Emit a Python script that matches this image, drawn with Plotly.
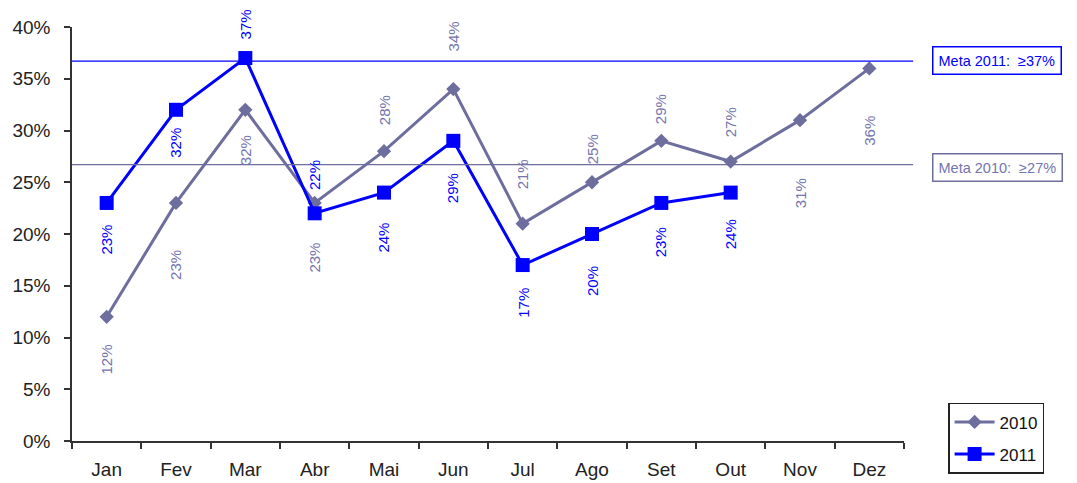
import plotly.graph_objects as go

months = ["Jan", "Fev", "Mar", "Abr", "Mai", "Jun", "Jul", "Ago", "Set", "Out", "Nov", "Dez"]
values_2010 = [12, 23, 32, 23, 28, 34, 21, 25, 29, 27, 31, 36]
values_2011 = [23, 32, 37, 22, 24, 29, 17, 20, 23, 24]
meta_2011 = 36.7
meta_2010 = 26.7
meta_2011_label = "Meta 2011:\u00a0\u00a0≥37%"
meta_2010_label = "Meta 2010:\u00a0\u00a0≥27%"
y_ticks = [0, 5, 10, 15, 20, 25, 30, 35, 40]

# label offsets in pixels (positive = below the point) - style only
shift_2010 = [43, 62, 40, 55, -41, -53, -49, -33, -32, -39, 73, 62]
shift_2011 = [37, 33, -34, -38, 45, 47, 38, 47, 39, 42]

C2010 = "#6E6E9E"
C2010_TXT = "#7474AE"
C2011 = "#0000FF"
FONT = "Liberation Sans, Arial, sans-serif"

fig = go.Figure()
fig.add_trace(go.Scatter(
    x=months, y=values_2010, name="2010", mode="lines+markers", legendgroup="a",
    line=dict(color=C2010, width=3),
    marker=dict(symbol="diamond", size=11, color=C2010),
))
fig.add_trace(go.Scatter(
    x=months[:len(values_2011)], y=values_2011, name="2011", mode="lines+markers", legendgroup="b",
    line=dict(color=C2011, width=3),
    marker=dict(symbol="square", size=14, color=C2011),
))

annotations = []
for m, v, s in zip(months, values_2010, shift_2010):
    annotations.append(dict(x=m, y=v, text=f"{v}%", showarrow=False, textangle=-90,
                            yshift=-s, font=dict(family=FONT, size=15, color=C2010_TXT)))
for m, v, s in zip(months, values_2011, shift_2011):
    annotations.append(dict(x=m, y=v, text=f"{v}%", showarrow=False, textangle=-90,
                            yshift=-s, font=dict(family=FONT, size=15, color=C2011)))

annotations.append(dict(xref="paper", yref="y", x=1.034, y=meta_2011, xanchor="left", yanchor="middle",
                        text=meta_2011_label, showarrow=False, bordercolor=C2011, borderwidth=1.5,
                        borderpad=5, bgcolor="white", yshift=1,
                        font=dict(family=FONT, size=14.5, color=C2011)))
annotations.append(dict(xref="paper", yref="y", x=1.034, y=meta_2010, xanchor="left", yanchor="middle",
                        text=meta_2010_label, showarrow=False, bordercolor=C2010, borderwidth=1.5,
                        borderpad=5, bgcolor="white", yshift=-3,
                        font=dict(family=FONT, size=14.5, color=C2010_TXT)))

shapes = [
    dict(type="line", xref="paper", yref="y", x0=0, x1=1.011, y0=meta_2011, y1=meta_2011,
         line=dict(color=C2011, width=1.3)),
    dict(type="line", xref="paper", yref="y", x0=0, x1=1.011, y0=meta_2010, y1=meta_2010,
         line=dict(color=C2010, width=1.3)),
]

fig.update_layout(
    width=1077, height=483,
    margin=dict(l=64, r=181, t=19, b=50),
    paper_bgcolor="white", plot_bgcolor="white",
    font=dict(family=FONT, size=19, color="#222222"),
    showlegend=True,
    legend=dict(x=1.053, y=0.092, xanchor="left", yanchor="top",
                bordercolor="#222222", borderwidth=1.5, bgcolor="white",
                font=dict(family=FONT, size=17, color="#111111"),
                itemwidth=40, tracegroupgap=7),
    annotations=annotations,
    shapes=shapes,
    xaxis=dict(
        type="category", categoryorder="array", categoryarray=months,
        range=[-0.5, len(months) - 0.5], automargin=False,
        showgrid=False, zeroline=False,
        showline=True, linecolor="#333333", linewidth=1.5,
        ticks="outside", ticklen=6, tickcolor="#333333", tickwidth=1.5,
        tickson="boundaries", ticklabelstandoff=10,
        tickfont=dict(family=FONT, size=19, color="#222222"),
    ),
    yaxis=dict(
        range=[0, 40], tickvals=y_ticks, ticktext=[f"{t}%" for t in y_ticks],
        automargin=False,
        showgrid=False, zeroline=False,
        showline=True, linecolor="#333333", linewidth=1.5,
        ticks="outside", ticklen=6, tickcolor="#333333", tickwidth=1.5,
        ticklabelstandoff=10,
        tickfont=dict(family=FONT, size=19, color="#222222"),
    ),
)

fig.write_html("out.html")
